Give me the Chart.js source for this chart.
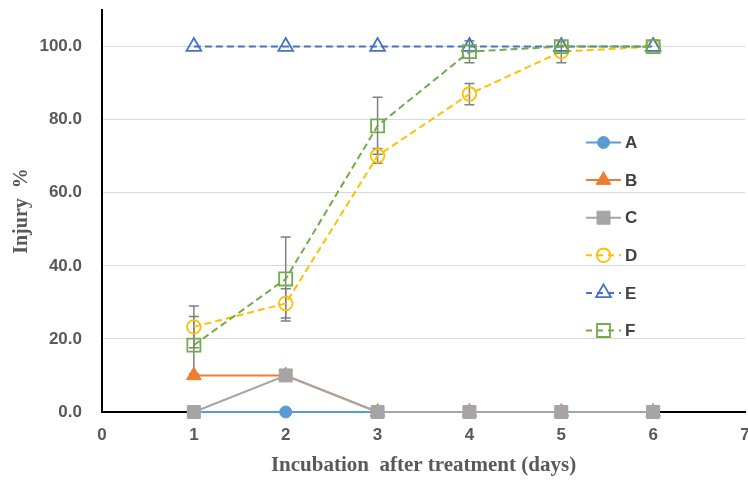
<!DOCTYPE html>
<html>
<head>
<meta charset="utf-8">
<script src="https://cdn.jsdelivr.net/npm/chart.js@4/dist/chart.umd.min.js"></script>
<style>
  html, body { margin: 0; padding: 0; background: #fff; }
  #wrap { width: 748px; height: 480px; position: relative; overflow: hidden; }
</style>
</head>
<body>
<div id="wrap"><canvas id="chart"></canvas></div>
<script>
const days = [1, 2, 3, 4, 5, 6];
const seriesNames = ["A", "B", "C", "D", "E", "F"];
const seriesA = [0, 0, 0, 0, 0, 0];
const seriesB = [10, 10, 0, 0, 0, 0];
const seriesC = [0, 10, 0, 0, 0, 0];
const seriesD = [23.3, 29.7, 70.1, 87, 98.6, 100];
const seriesE = [100, 100, 100, 100, 100, 100];
const seriesF = [18.3, 36.4, 78.3, 98.6, 100, 100];
// error bars (±) for D and F
const errD = [5.7, 4, 2, 2.9, 3, 0];
const errF = [7.8, 11.5, 7.8, 3, 0, 0];
const yTicks = [0, 20, 40, 60, 80, 100];
const xTicks = [0, 1, 2, 3, 4, 5, 6, 7];

const textGray = "#595959";
const dash = [7, 4];

function pts(values) {
  return days.map((d, i) => ({ x: d, y: values[i] }));
}

const styles = [
  { color: "#5b9bd5", point: "circle", radius: 6, fill: true, dashed: false },
  { color: "#ed7d31", point: "triangle", radius: 8.5, fill: true, dashed: false },
  { color: "#a5a5a5", point: "rect", radius: 9.2, fill: true, dashed: false },
  { color: "#ffc000", point: "circle", radius: 6.8, fill: false, dashed: true },
  { color: "#4472c4", point: "triangle", radius: 8.5, fill: false, dashed: true },
  { color: "#70ad47", point: "rect", radius: 9.2, fill: false, dashed: true },
];
const allSeries = [seriesA, seriesB, seriesC, seriesD, seriesE, seriesF];

const datasets = allSeries.map((vals, i) => {
  const s = styles[i];
  return {
    label: seriesNames[i],
    data: pts(vals),
    borderColor: s.color,
    borderWidth: 2,
    borderDash: s.dashed ? dash : [],
    pointStyle: s.point,
    pointRadius: s.radius,
    pointHoverRadius: s.radius,
    pointBackgroundColor: s.fill ? s.color : "rgba(0,0,0,0)",
    pointBorderColor: s.color,
    pointBorderWidth: s.fill ? 1 : 1.8,
    fill: false,
    tension: 0,
    clip: false,
    order: 6 - i, // later series drawn on top
  };
});

// simple marker drawing for the legend
function marker(ctx, s, x, y) {
  const r = s.radius;
  ctx.beginPath();
  if (s.point === "circle") {
    ctx.arc(x, y, r, 0, Math.PI * 2);
  } else if (s.point === "triangle") {
    for (let k = 0; k < 3; k++) {
      const a = k * 2 * Math.PI / 3;
      const px = x + Math.sin(a) * r, py = y - Math.cos(a) * r;
      k === 0 ? ctx.moveTo(px, py) : ctx.lineTo(px, py);
    }
    ctx.closePath();
  } else {
    const h = r * Math.SQRT1_2;
    ctx.rect(x - h, y - h, 2 * h, 2 * h);
  }
  if (s.fill) { ctx.fillStyle = s.color; ctx.fill(); }
  ctx.lineWidth = s.fill ? 1 : 1.8;
  ctx.strokeStyle = s.color;
  ctx.stroke();
}

const errorBars = {
  id: "errorBars",
  beforeDatasetsDraw(chart) {
    const { ctx, scales: { x, y } } = chart;
    ctx.save();
    ctx.strokeStyle = "#7f7f7f";
    ctx.lineWidth = 1.5;
    [[seriesD, errD], [seriesF, errF]].forEach(([vals, errs]) => {
      days.forEach((d, i) => {
        if (!errs[i]) return;
        const px = x.getPixelForValue(d);
        const top = y.getPixelForValue(vals[i] + errs[i]);
        const bot = y.getPixelForValue(vals[i] - errs[i]);
        ctx.beginPath();
        ctx.moveTo(px, top); ctx.lineTo(px, bot);
        ctx.moveTo(px - 5, top); ctx.lineTo(px + 5, top);
        ctx.moveTo(px - 5, bot); ctx.lineTo(px + 5, bot);
        ctx.stroke();
      });
    });
    ctx.restore();
  },
};

const sideLegend = {
  id: "sideLegend",
  afterDraw(chart) {
    const { ctx } = chart;
    ctx.save();
    ctx.font = "bold 17px 'Liberation Sans', Arial, sans-serif";
    ctx.textBaseline = "middle";
    seriesNames.forEach((name, i) => {
      const s = styles[i];
      const y0 = 142.5 + i * 37.6;
      ctx.strokeStyle = s.color;
      ctx.lineWidth = 2;
      ctx.setLineDash(s.dashed ? [6, 5] : []);
      ctx.beginPath();
      ctx.moveTo(586, y0); ctx.lineTo(621, y0);
      ctx.stroke();
      ctx.setLineDash([]);
      marker(ctx, s, 603.5, y0);
      ctx.fillStyle = "#404040";
      ctx.fillText(name, 625, y0 + 1);
    });
    ctx.restore();
  },
};

new Chart(document.getElementById("chart"), {
  type: "line",
  data: { datasets },
  options: {
    responsive: true,
    maintainAspectRatio: false,
    animation: false,
    layout: { autoPadding: false, padding: { top: 10, left: 0, right: 3, bottom: 0 } },
    plugins: { legend: { display: false }, tooltip: { enabled: false } },
    scales: {
      x: {
        type: "linear",
        min: 0,
        max: 7,
        afterBuildTicks: (scale) => { scale.ticks = xTicks.map((v) => ({ value: v })); },
        afterFit: (scale) => {
          scale.height = 68;
          scale.paddingLeft = 0;
          scale.paddingRight = 0;
        },
        grid: { display: false, drawTicks: false },
        border: { color: "#000", width: 2 },
        ticks: {
          padding: 13,
          color: textGray,
          font: { family: "'Liberation Sans', Arial, sans-serif", size: 17, weight: "bold" },
          maxRotation: 0,
        },
        title: {
          display: true,
          text: "Incubation  after treatment (days)",
          color: textGray,
          font: { family: "'Liberation Serif', 'Times New Roman', serif", size: 21, weight: "bold" },
          padding: { top: 0, bottom: 2 },
        },
      },
      y: {
        min: 0,
        max: 110,
        afterBuildTicks: (scale) => { scale.ticks = yTicks.map((v) => ({ value: v })); },
        afterFit: (scale) => {
          scale.width = 102;
          scale.paddingTop = 0;
          scale.paddingBottom = 0;
        },
        grid: {
          drawTicks: false,
          color: (c) => (c.tick && c.tick.value === 0 ? "rgba(0,0,0,0)" : "#d9d9d9"),
          lineWidth: 1,
        },
        border: { color: "#000", width: 2 },
        ticks: {
          padding: 20,
          color: textGray,
          font: { family: "'Liberation Sans', Arial, sans-serif", size: 17, weight: "bold" },
          callback: (v) => Number(v).toFixed(1),
        },
        title: {
          display: true,
          text: "Injury  %",
          color: textGray,
          font: { family: "'Liberation Serif', 'Times New Roman', serif", size: 20, weight: "bold" },
          padding: { top: 10, bottom: 0 },
        },
      },
    },
  },
  plugins: [errorBars, sideLegend],
});
</script>
</body>
</html>
